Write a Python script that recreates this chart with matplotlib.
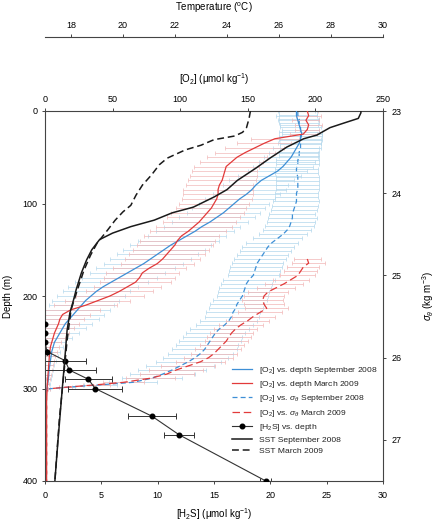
import matplotlib
matplotlib.use("Agg")
import matplotlib.pyplot as plt

plt.rcParams['font.family'] = ['Liberation Sans', 'DejaVu Sans']
plt.rcParams['mathtext.fontset'] = 'custom'
plt.rcParams['mathtext.rm'] = 'Liberation Sans'
plt.rcParams['mathtext.it'] = 'Liberation Sans:italic'
plt.rcParams['mathtext.sf'] = 'Liberation Sans'

# ---------------- data ----------------
# O2 vs depth, September 2008
depth_sep = [0, 5, 10, 15, 20, 25, 30, 35, 40, 45, 50, 55, 60, 65, 70, 75, 80, 85, 90, 95,
             100, 105, 110, 115, 120, 125, 130, 135, 140, 145, 150, 155, 160, 165, 170, 175,
             180, 185, 190, 195, 200, 205, 210, 215, 220, 225, 230, 235, 240, 245, 250, 255,
             260, 265, 270, 275, 280, 285, 290, 295, 300, 305, 310, 320, 330, 340, 350, 360,
             370, 380, 390, 400]
o2_sep = [186, 186, 187, 188, 189, 190, 189, 188, 186, 184, 182, 179, 176, 172, 166, 160, 156,
          153, 149, 144, 140, 136, 132, 127, 122, 116, 111, 105, 99, 93, 88, 83, 78, 73, 67,
          61, 55, 49, 43, 38, 34, 30, 27, 24, 21, 18, 15, 13, 11, 9, 7, 6, 5, 4.5, 4, 3.5, 3,
          2.8, 2.5, 2, 1.5, 0.3, 0.2, 0.2, 0.2, 0.2, 0.2, 0.2, 0.2, 0.2, 0.2, 0.2]
o2_sep_err = [14, 15, 15, 14, 14, 15, 15, 16, 17, 18, 20, 21, 22, 22, 23, 24, 24, 25, 25, 26,
              26, 27, 27, 28, 28, 28, 29, 29, 30, 30, 30, 30, 30, 29, 29, 28, 28, 27, 26, 25,
              25, 25, 24, 24, 23, 22, 20, 17, 14, 11, 8, 7, 6, 5, 4, 3.5, 3, 2.5, 2, 1.5, 1,
              0.5, 0.5, 0.5, 0.5, 0.5, 0.5, 0.5, 0.5, 0.5, 0.5, 0.5]

# O2 vs depth, March 2009
depth_mar = depth_sep
o2_mar = [194, 195, 193, 195, 194, 191, 170, 162, 155, 148, 142, 138, 134, 133, 132, 131, 129,
          128, 128, 127, 125, 123, 120, 117, 114, 110, 106, 101, 98, 96, 93, 90, 87, 83, 77,
          72, 70, 67, 61, 55, 48, 39, 30, 19, 13, 11, 10, 8.5, 7, 6, 5, 4, 3.6, 3.2, 3, 2.7,
          2.5, 2.2, 2, 1.8, 1.5, 1.3, 1.2, 1.2, 1.2, 1.2, 1.2, 1.2, 1.2, 1.2, 1.2, 1.2]
o2_mar_err = [8, 9, 10, 10, 9, 10, 18, 20, 22, 22, 22, 23, 24, 24, 25, 25, 25, 26, 26, 26,
              26, 26, 27, 27, 27, 28, 28, 28, 28, 28, 28, 28, 28, 27, 27, 27, 26, 26, 25, 25,
              25, 24, 23, 22, 20, 18, 15, 13, 11, 9, 7, 6, 5, 4, 3.5, 3, 2.5, 2, 1.5, 1, 1,
              0.5, 0.5, 0.5, 0.5, 0.5, 0.5, 0.5, 0.5, 0.5, 0.5, 0.5]

# O2 vs sigma-theta, September 2008
sig_sep = [23.00, 23.05, 23.10, 23.15, 23.20, 23.25, 23.30, 23.35, 23.40, 23.45,
           23.50, 23.55, 23.60, 23.65, 23.70, 23.75, 23.80, 23.85, 23.90, 23.95,
           24.00, 24.05, 24.10, 24.15, 24.20, 24.25, 24.30, 24.35, 24.40, 24.45,
           24.50, 24.55, 24.60, 24.65, 24.70, 24.75, 24.80, 24.85, 24.90, 24.95,
           25.00, 25.05, 25.10, 25.15, 25.20, 25.25, 25.30, 25.35, 25.40, 25.45,
           25.50, 25.55, 25.60, 25.65, 25.70, 25.75, 25.80, 25.85, 25.90, 25.95,
           26.00, 26.05, 26.10, 26.15, 26.20, 26.25, 26.30, 26.33, 26.36, 26.38, 26.45]
o2s_sep = [187, 187, 188, 188, 189, 189, 189, 189, 189, 189,
           188, 188, 187, 187, 186, 186, 187, 187, 187, 187,
           186, 186, 186, 185, 184, 183, 183, 182, 181, 179,
           176, 172, 168, 165, 163, 161, 159, 157, 156, 155,
           154, 151, 149, 148, 147, 146, 144, 142, 141, 139,
           138, 136, 133, 129, 126, 124, 122, 120, 118, 115,
           111, 106, 100, 94, 87, 79, 65, 41, 16, 2, 0.5]
o2s_sep_err = [14, 14, 15, 15, 15, 16, 16, 16, 15, 15,
               15, 15, 16, 16, 16, 16, 16, 16, 16, 16,
               16, 16, 17, 17, 17, 17, 18, 18, 18, 18,
               18, 18, 19, 19, 19, 19, 19, 19, 19, 19,
               19, 19, 19, 19, 19, 19, 20, 20, 20, 20,
               20, 21, 21, 22, 22, 22, 23, 23, 24, 24,
               24, 24, 25, 25, 24, 22, 18, 12, 6, 2, 0.5]

# O2 vs sigma-theta, March 2009
sig_mar = [24.80, 24.85, 24.90, 24.95, 25.00, 25.05, 25.10, 25.15, 25.20, 25.25,
           25.30, 25.35, 25.40, 25.45, 25.50, 25.55, 25.60, 25.65, 25.70, 25.75,
           25.80, 25.85, 25.90, 25.95, 26.00, 26.05, 26.10, 26.15, 26.20, 26.25,
           26.30, 26.33, 26.36, 26.38, 26.45]
o2s_mar = [194, 195, 191, 189, 187, 182, 177, 171, 165, 162,
           161, 162, 164, 159, 154, 150, 145, 141, 138, 136,
           134, 131, 128, 125, 121, 115, 106, 97, 90, 78,
           58, 38, 15, 2, 1]
o2s_mar_err = [10, 12, 12, 12, 13, 13, 14, 14, 15, 15,
               15, 15, 16, 16, 16, 16, 16, 16, 16, 16,
               16, 16, 17, 17, 18, 18, 20, 20, 20, 18,
               15, 10, 5, 2, 0.5]

# H2S vs depth
h2s_depth = [230, 240, 250, 260, 270, 280, 290, 300, 330, 350, 400]
h2s = [0.0, 0.03, 0.0, 0.18, 1.8, 2.15, 3.85, 4.45, 9.5, 11.9, 19.6]
h2s_err = [0, 0, 0, 0, 1.8, 2.4, 2.1, 2.4, 2.1, 1.3, 0.5]

# SST profiles
sst_sep_depth = [0, 2, 8, 13, 18, 26, 30, 39, 51, 62, 75, 85, 93, 104, 110, 118, 125, 132,
                 139, 150, 161, 175, 193, 204, 218, 237, 272, 305, 356, 400]
sst_sep = [29.15, 29.15, 29.05, 28.5, 27.96, 27.46, 26.95, 26.3, 25.65, 25.1, 24.4, 24.0,
           23.5, 22.7, 21.9, 21.2, 20.3, 19.6, 19.1, 18.8, 18.6, 18.4, 18.2, 18.1, 17.96,
           17.85, 17.75, 17.65, 17.5, 17.38]
sst_mar_depth = [0, 8, 18, 23, 27, 31, 37, 42, 51, 58, 69, 80, 91, 102, 109, 118, 129, 143,
                 156, 172, 193, 215, 248, 291, 334, 400]
sst_mar = [24.9, 24.85, 24.75, 24.6, 24.3, 23.5, 23.0, 22.4, 21.7, 21.4, 21.1, 20.75, 20.5,
           20.3, 20.0, 19.7, 19.4, 19.0, 18.75, 18.5, 18.25, 18.0, 17.85, 17.7, 17.55, 17.38]

labels = [r"[O$_2$] vs. depth September 2008",
          r"[O$_2$] vs. depth March 2009",
          r"[O$_2$] vs. $\sigma_\theta$ September 2008",
          r"[O$_2$] vs. $\sigma_\theta$ March 2009",
          r"[H$_2$S] vs. depth",
          "SST September 2008",
          "SST March 2009"]

# ---------------- style ----------------
BLUE = "#3d8fd6"
RED = "#e23a3a"
LBLUE = "#b3d7ec"
LRED = "#f1b7b7"
AXC = "#444444"
TICK = 6.5
LAB = 7

fig = plt.figure(figsize=(4.39, 5.23), dpi=100)
fig.patch.set_facecolor("white")
rect = [45 / 439, 42 / 523, 338 / 439, 370 / 523]
ax = fig.add_axes(rect)        # H2S vs depth
ax_o2 = ax.twiny()             # O2 vs depth
ax_sig = ax_o2.twinx()         # O2 vs sigma
ax_T = ax.twiny()              # Temperature vs depth

ax_sig.set_zorder(1)
ax_o2.set_zorder(2)
ax.set_zorder(3)
ax_T.set_zorder(4)
for a in (ax, ax_o2, ax_sig, ax_T):
    a.patch.set_visible(False)
    for s in a.spines.values():
        s.set_visible(False)
        s.set_color(AXC)
        s.set_linewidth(0.8)

# sigma profiles
ax_sig.errorbar(o2s_sep, sig_sep, xerr=o2s_sep_err, fmt='none', ecolor=LBLUE,
                elinewidth=0.6, capsize=1.3, capthick=0.6, alpha=0.85, zorder=1)
ax_sig.errorbar(o2s_mar, sig_mar, xerr=o2s_mar_err, fmt='none', ecolor=LRED,
                elinewidth=0.6, capsize=1.3, capthick=0.6, alpha=0.85, zorder=1)
l3, = ax_sig.plot(o2s_sep, sig_sep, color=BLUE, lw=0.9, ls=(0, (4, 2.5)), zorder=3)
l4, = ax_sig.plot(o2s_mar, sig_mar, color=RED, lw=0.9, ls=(0, (6, 3)), zorder=3)

# depth profiles
ax_o2.errorbar(o2_sep, depth_sep, xerr=o2_sep_err, fmt='none', ecolor=LBLUE,
               elinewidth=0.6, capsize=1.3, capthick=0.6, alpha=0.8, zorder=1)
ax_o2.errorbar(o2_mar, depth_mar, xerr=o2_mar_err, fmt='none', ecolor=LRED,
               elinewidth=0.6, capsize=1.3, capthick=0.6, alpha=0.8, zorder=1)
l1, = ax_o2.plot(o2_sep, depth_sep, color=BLUE, lw=0.9, zorder=3)
l2, = ax_o2.plot(o2_mar, depth_mar, color=RED, lw=0.9, zorder=3)

# H2S
ax.errorbar(h2s, h2s_depth, xerr=h2s_err, fmt='none', ecolor="#333333",
            elinewidth=0.7, capsize=2.2, capthick=0.7, zorder=2)
l5, = ax.plot(h2s, h2s_depth, color="#333333", lw=0.8, marker='o', ms=3.3,
              mfc='black', mec='black', zorder=3)

# SST
l6, = ax_T.plot(sst_sep, sst_sep_depth, color="#1a1a1a", lw=1.1)
l7, = ax_T.plot(sst_mar, sst_mar_depth, color="#1a1a1a", lw=1.1, ls=(0, (4.5, 2.5)))

# ---------------- axes ----------------
ax.set_ylim(400, 0)
ax.set_xlim(0, 30)
ax_o2.set_xlim(0, 250)
ax_sig.set_ylim(27.5, 23)
ax_T.set_xlim(17, 30)

ax.spines['left'].set_visible(True)
ax.spines['bottom'].set_visible(True)
ax_o2.spines['top'].set_visible(True)
ax_sig.spines['right'].set_visible(True)
ax_T.spines['top'].set_visible(True)
ax_T.spines['top'].set_position(('axes', 1.2))

ax.set_xticks([0, 5, 10, 15, 20, 25, 30])
ax.set_yticks([0, 100, 200, 300, 400])
ax_o2.set_xticks([0, 50, 100, 150, 200, 250])
ax_sig.set_yticks([23, 24, 25, 26, 27])
ax_T.set_xticks([18, 20, 22, 24, 26, 28, 30])

kw = dict(labelsize=TICK, length=2.5, width=0.7, color=AXC, direction='out')
ax.tick_params(axis='x', pad=4.5, **kw)
ax.tick_params(axis='y', pad=3, **kw)
ax_o2.tick_params(axis='x', pad=2.5, **kw)
ax_sig.tick_params(axis='y', pad=4, **kw)
ax_T.tick_params(axis='x', pad=2.5, **kw)
ax_T.yaxis.set_visible(False)

ax.set_xlabel("[H$_2$S] (\u03bcmol kg$^{-1}$)", fontsize=LAB, labelpad=5)
ax.set_ylabel("Depth (m)", fontsize=LAB, labelpad=7)
ax_o2.set_xlabel("[O$_2$] (\u03bcmol kg$^{-1}$)", fontsize=LAB, labelpad=9)
ax_sig.set_ylabel(r"$\sigma_\theta$ (kg m$^{-3}$)", fontsize=LAB, labelpad=13)
ax_T.set_xlabel(r"Temperature ($^\mathrm{o}$C)", fontsize=LAB, labelpad=7)
ax_T.xaxis.set_label_position('top')

leg = ax_T.legend([l1, l2, l3, l4, l5, l6, l7], labels, loc='lower right',
                  bbox_to_anchor=(0.985, 0.07), frameon=False, fontsize=6.1,
                  handlelength=2.3, handletextpad=0.9, labelspacing=0.38,
                  borderaxespad=0, borderpad=0, numpoints=1)
for t in leg.get_texts():
    t.set_color("#222222")

fig.savefig("out.png", dpi=100)
